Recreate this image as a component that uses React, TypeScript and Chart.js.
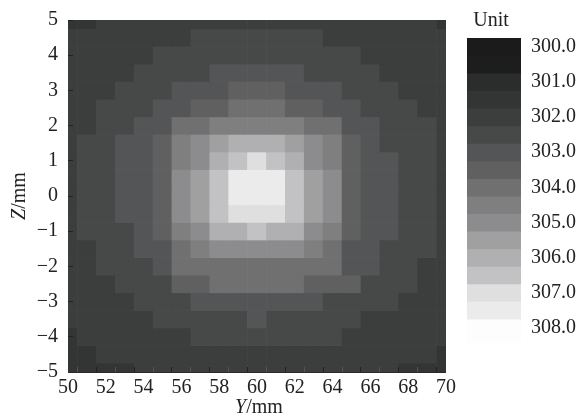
import React, { useEffect, useRef } from "react";
import { Chart, registerables } from "chart.js";

Chart.register(...registerables);

const yPositions = [50, 51, 52, 53, 54, 55, 56, 57, 58, 59, 60, 61, 62, 63, 64, 65, 66, 67, 68, 69, 70];
const zPositions = [5, 4.5, 4, 3.5, 3, 2.5, 2, 1.5, 1, 0.5, 0, -0.5, -1, -1.5, -2, -2.5, -3, -3.5, -4, -4.5, -5];

const temperatureRows = [
  [301.5, 301.5, 302, 302, 302, 302, 302, 302, 302, 302, 302, 302, 302, 302, 302, 302, 302, 302, 302, 302, 301.5],
  [302, 302, 302, 302, 302, 302, 302, 302.5, 302.5, 302.5, 302.5, 302.5, 302.5, 302.5, 302, 302, 302, 302, 302, 302, 302],
  [302, 302, 302, 302, 302, 302.5, 302.5, 302.5, 302.5, 302.5, 302.5, 302.5, 302.5, 302.5, 302.5, 302.5, 302, 302, 302, 302, 302],
  [302, 302, 302, 302, 302.5, 302.5, 302.5, 302.5, 303, 303, 303, 303, 303, 302.5, 302.5, 302.5, 302.5, 302, 302, 302, 302],
  [302, 302, 302, 302.5, 302.5, 302.5, 303, 303, 303, 303.5, 303.5, 303.5, 303, 303, 303, 302.5, 302.5, 302.5, 302, 302, 302],
  [302, 302, 302.5, 302.5, 302.5, 303, 303, 303.5, 303.5, 304, 304, 304, 303.5, 303.5, 303, 303, 302.5, 302.5, 302.5, 302, 302],
  [302, 302, 302.5, 302.5, 303, 303, 304, 304, 304.5, 304.5, 304.5, 304.5, 304.5, 304, 304, 303, 303, 302.5, 302.5, 302.5, 302],
  [302, 302.5, 302.5, 303, 303, 303.5, 304.5, 305, 305.5, 306, 306, 306, 305.5, 305, 304.5, 303.5, 303, 302.5, 302.5, 302.5, 302],
  [302, 302.5, 302.5, 303, 303, 303.5, 304.5, 305, 306, 306.5, 307, 306.5, 306, 305, 304.5, 303.5, 303, 303, 302.5, 302.5, 302],
  [302, 302.5, 302.5, 303, 303, 303.5, 305, 305.5, 306.5, 307.5, 307.5, 307.5, 306.5, 305.5, 305, 303.5, 303, 303, 302.5, 302.5, 302],
  [302, 302.5, 302.5, 303, 303, 303.5, 305, 305.5, 306.5, 307.5, 307.5, 307.5, 306.5, 305.5, 305, 303.5, 303, 303, 302.5, 302.5, 302],
  [302, 302.5, 302.5, 303, 303, 303.5, 305, 305.5, 306.5, 307, 307, 307, 306.5, 305.5, 305, 303.5, 303, 303, 302.5, 302.5, 302],
  [302, 302.5, 302.5, 302.5, 303, 303.5, 304.5, 305, 306, 306, 306.5, 306, 306, 305, 304.5, 303.5, 303, 303, 302.5, 302.5, 302],
  [302, 302, 302.5, 302.5, 303, 303, 304, 304.5, 305, 305, 305, 305, 305, 304.5, 304, 303, 303, 302.5, 302.5, 302.5, 302],
  [302, 302, 302.5, 302.5, 302.5, 303, 304, 304, 304, 304, 304, 304, 304, 304, 304, 303, 303, 302.5, 302.5, 302, 302],
  [302, 302, 302, 302.5, 302.5, 302.5, 303.5, 303.5, 304, 304, 304, 304, 304, 303.5, 303.5, 303.5, 302.5, 302.5, 302.5, 302, 302],
  [302, 302, 302, 302, 302.5, 302.5, 302.5, 303, 303, 303, 303, 303, 303, 303, 302.5, 302.5, 302.5, 302.5, 302, 302, 302],
  [302, 302, 302, 302, 302, 302.5, 302.5, 302.5, 302.5, 302.5, 303, 302.5, 302.5, 302.5, 302.5, 302.5, 302, 302, 302, 302, 302],
  [301.5, 302, 302, 302, 302, 302, 302, 302.5, 302.5, 302.5, 302.5, 302.5, 302.5, 302.5, 302.5, 302, 302, 302, 302, 302, 302],
  [301.5, 301.5, 302, 302, 302, 302, 302, 302, 302, 302, 302, 302, 302, 302, 302, 302, 302, 302, 302, 302, 301.5],
  [301.5, 301.5, 301.5, 301.5, 302, 302, 302, 302, 302, 302, 302, 302, 302, 302, 302, 302, 302, 302, 301.5, 301.5, 301.5],
];

const bandValues = [300, 300.5, 301, 301.5, 302, 302.5, 303, 303.5, 304, 304.5, 305, 305.5, 306, 306.5, 307, 307.5, 308];
const bandColors = [
  "#1b1b1b", "#1d1d1d", "#2b2c2c", "#333535", "#3c3e3e", "#474848", "#545556", "#606060", "#707070",
  "#7f7f7f", "#8c8c8e", "#a0a0a0", "#b0b0b2", "#c2c2c4", "#dfdfe0", "#ebebeb", "#fdfdfd",
];
const legendTicks = [300, 301, 302, 303, 304, 305, 306, 307, 308];
const legendUnit = "Unit";

const FONT_FAMILY = "'Liberation Serif', serif";
const INK = "#222222";

const colorOf = (v: number) => bandColors[bandValues.indexOf(v)];

function mixedText(ctx: CanvasRenderingContext2D, x: number, y: number, rotate: boolean, italic: string, rest: string) {
  ctx.save();
  ctx.translate(x, y);
  if (rotate) ctx.rotate(-Math.PI / 2);
  ctx.fillStyle = INK;
  ctx.textBaseline = "middle";
  ctx.textAlign = "left";
  ctx.font = `italic 20px ${FONT_FAMILY}`;
  const w1 = ctx.measureText(italic).width;
  ctx.font = `20px ${FONT_FAMILY}`;
  const w2 = ctx.measureText(rest).width;
  ctx.font = `italic 20px ${FONT_FAMILY}`;
  ctx.fillText(italic, -(w1 + w2) / 2, 0);
  ctx.font = `20px ${FONT_FAMILY}`;
  ctx.fillText(rest, -(w1 + w2) / 2 + w1, 0);
  ctx.restore();
}

export default function App() {
  const mainRef = useRef<HTMLCanvasElement>(null);
  const barRef = useRef<HTMLCanvasElement>(null);

  useEffect(() => {
    const axisTitles = {
      id: "axisTitles",
      afterDraw(chart: any) {
        const { ctx, chartArea } = chart;
        ctx.save();
        ctx.strokeStyle = "#2a2a2a";
        ctx.lineWidth = 1;
        ctx.beginPath();
        ctx.moveTo(chartArea.left, chartArea.bottom + 0.5);
        ctx.lineTo(chartArea.right, chartArea.bottom + 0.5);
        ctx.stroke();
        ctx.restore();
        mixedText(ctx, (chartArea.left + chartArea.right) / 2 + 2, 408, false, "Y", "/mm");
        mixedText(ctx, 20, (chartArea.top + chartArea.bottom) / 2, true, "Z", "/mm");
      },
    };

    const main = new Chart(mainRef.current!, {
      type: "bar",
      data: {
        datasets: temperatureRows.map((row, r) => ({
          label: `Z=${zPositions[r]}`,
          data: row.map((_, c) => ({ x: yPositions[c], y: [zPositions[r] - 0.25, zPositions[r] + 0.25] })),
          backgroundColor: row.map(colorOf),
          borderWidth: 0,
          grouped: false,
          barPercentage: 1,
          categoryPercentage: 1,
        })),
      } as any,
      options: {
        animation: false,
        responsive: false,
        layout: { padding: { top: 20, right: 138, bottom: 0, left: 0 } },
        plugins: { legend: { display: false }, tooltip: { enabled: false } },
        scales: {
          x: {
            type: "linear",
            min: 50,
            max: 70,
            offset: false,
            afterFit: (s: any) => { s.height = 45; s.paddingLeft = 0; s.paddingRight = 0; },
            grid: {
              drawOnChartArea: false,
              z: 1,
              tickLength: -5,
              tickColor: (c: any) => (c.tick && c.tick.value % 2 === 0 ? "#222222" : "#555555"),
              tickWidth: 1,
            },
            border: { display: false },
            ticks: {
              stepSize: 1,
              autoSkip: false,
              maxRotation: 0,
              padding: 9,
              color: INK,
              font: { family: FONT_FAMILY, size: 20 },
              callback: (v: any) => (Number(v) % 2 === 0 ? String(v) : ""),
            },
          },
          y: {
            type: "linear",
            min: -5,
            max: 5,
            afterFit: (s: any) => { s.width = 68; s.paddingTop = 0; s.paddingBottom = 0; },
            grid: { drawOnChartArea: false, z: 1, tickLength: -5, tickColor: "#222222", tickWidth: 1 },
            border: { display: false },
            ticks: {
              stepSize: 1,
              padding: 15,
              color: INK,
              font: { family: FONT_FAMILY, size: 20 },
              callback: (v: any) => (Number(v) < 0 ? `\u2212${Math.abs(Number(v))}` : String(v)),
            },
          },
        },
      } as any,
      plugins: [axisTitles],
    });

    const unitTitle = {
      id: "unitTitle",
      afterDraw(chart: any) {
        const { ctx, chartArea } = chart;
        ctx.save();
        ctx.fillStyle = INK;
        ctx.font = `20px ${FONT_FAMILY}`;
        ctx.textAlign = "center";
        ctx.textBaseline = "middle";
        ctx.fillText(legendUnit, (chartArea.left + chartArea.right) / 2 - 3, 21);
        ctx.restore();
      },
    };

    const legend = new Chart(barRef.current!, {
      type: "bar",
      data: {
        labels: [legendUnit],
        datasets: bandValues.map((v, i) => ({
          label: String(v),
          data: [[v - 0.25, i === bandValues.length - 1 ? 308.43 : v + 0.25]],
          backgroundColor: bandColors[i],
          borderWidth: 0,
          grouped: false,
          barPercentage: 1,
          categoryPercentage: 1,
        })),
      } as any,
      options: {
        animation: false,
        responsive: false,
        layout: { padding: { top: 38, right: 0, bottom: 417 - 343, left: 7 } },
        plugins: { legend: { display: false }, tooltip: { enabled: false } },
        scales: {
          x: { display: false },
          y: {
            type: "linear",
            position: "right",
            reverse: true,
            min: 299.75,
            max: 308.43,
            afterBuildTicks: (s: any) => { s.ticks = legendTicks.map((value) => ({ value })); },
            afterFit: (s: any) => { s.width = 124 - 7 - 54; s.paddingTop = 0; s.paddingBottom = 0; },
            grid: { display: false, drawTicks: false },
            border: { display: false },
            ticks: {
              padding: 10,
              color: INK,
              font: { family: FONT_FAMILY, size: 20 },
              callback: (v: any) => Number(v).toFixed(1),
            },
          },
        },
      } as any,
      plugins: [unitTitle],
    });

    return () => {
      main.destroy();
      legend.destroy();
    };
  }, []);

  return (
    <div style={{ position: "fixed", left: 0, top: 0, width: 584, height: 417, background: "#ffffff" }}>
      <canvas ref={mainRef} width={584} height={417} style={{ position: "absolute", left: 0, top: 0 }} />
      <canvas ref={barRef} width={124} height={417} style={{ position: "absolute", left: 460, top: 0 }} />
    </div>
  );
}
